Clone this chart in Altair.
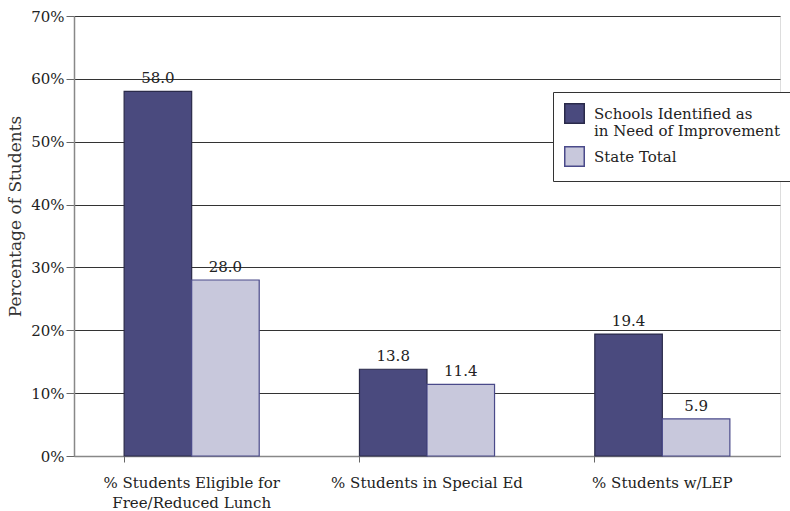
import altair as alt
import pandas as pd

categories = ["% Students Eligible for|Free/Reduced Lunch", "% Students in Special Ed", "% Students w/LEP"]
series = ["Schools Identified as|in Need of Improvement", "State Total"]
schools_values = [58.0, 13.8, 19.4]
state_values = [28.0, 11.4, 5.9]

rows = []
for c, a, b in zip(categories, schools_values, state_values):
    rows.append({"category": c, "series": series[0], "value": a})
    rows.append({"category": c, "series": series[1], "value": b})
df = pd.DataFrame(rows)

FONT = "DejaVu Serif"
dark = "#4a4a7e"
light = "#c8c8dc"

x = alt.X("category:N", sort=categories, title=None,
          scale=alt.Scale(paddingInner=0.426, paddingOuter=0.213),
          axis=alt.Axis(labelExpr="split(datum.label, '|')", labelAngle=0,
                        bandPosition=0, tickSize=6, tickColor="#666",
                        domainColor="#888", domainWidth=1.5, labelPadding=13,
                        labelFontSize=15, labelFont=FONT, labelColor="#222",
                        labelLineHeight=20, labelBaseline="top", labelLimit=400))
xo = alt.XOffset("series:N", sort=series, scale=alt.Scale(paddingInner=0, paddingOuter=0))
y = alt.Y("value:Q", title="Percentage of Students",
          scale=alt.Scale(domain=[0, 70], nice=False),
          axis=alt.Axis(values=[0, 10, 20, 30, 40, 50, 60, 70],
                        labelExpr="datum.value + '%'", tickSize=8, tickColor="#666",
                        domainColor="#888", domainWidth=1.5,
                        gridColor="#333", gridWidth=1, grid=True,
                        labelFontSize=15, labelFont=FONT, labelColor="#222", labelPadding=2,
                        titleFont=FONT, titleFontSize=17, titleFontWeight="normal",
                        titleColor="#333", titleX=-50, titleY=200, titleAngle=270,
                        titleBaseline="bottom", titleAlign="center"))

bars = alt.Chart(df).mark_bar(strokeWidth=1.2).encode(
    x=x, xOffset=xo, y=y,
    color=alt.Color("series:N", sort=series,
                    scale=alt.Scale(domain=series, range=[dark, light]),
                    legend=alt.Legend(title=None, orient="none", legendX=479, legendY=76,
                                      labelExpr="split(datum.label, '|')",
                                      labelFont=FONT, labelFontSize=15, labelColor="#222",
                                      labelBaseline="middle", labelOffset=9,
                                      labelLimit=400,
                                      symbolType="square", symbolSize=380,
                                      symbolStrokeWidth=1.5, symbolStrokeColor="#333",
                                      rowPadding=4, padding=11,
                                      strokeColor="#333", fillColor="white")),
    stroke=alt.Stroke("series:N", sort=series,
                      scale=alt.Scale(domain=series, range=["#2a2a4a", "#4a4a8a"]),
                      legend=None),
)

labels = alt.Chart(df).mark_text(dy=-13, font=FONT, fontSize=15, color="#222").encode(
    x=alt.X("category:N", sort=categories), xOffset=xo, y="value:Q",
    text=alt.Text("value:Q", format=".1f"),
)

chart = alt.layer(bars, labels).properties(
    width=706, height=440,
    autosize=alt.AutoSizeParams(type="none"),
    padding={"left": 74, "top": 16, "right": 10, "bottom": 55},
).configure_view(stroke="#333", strokeWidth=1).configure(background="white")

chart.save("out.html", embed_options={"renderer": "svg", "actions": False})
